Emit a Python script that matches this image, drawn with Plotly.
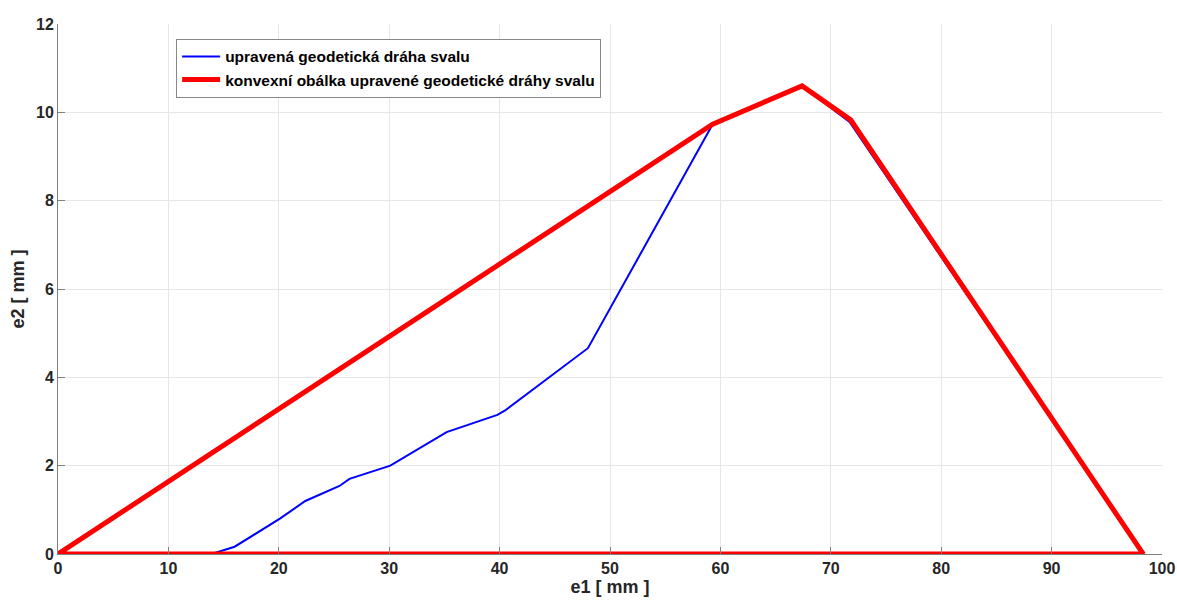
import plotly.graph_objects as go

# blue path
path_e1 = [13.9, 16.0, 20.1, 22.4, 25.5, 26.4, 30.1, 35.2, 39.8, 40.5, 48.0, 59.3, 67.4, 71.7, 98.3]
path_e2 = [0.0, 0.165, 0.8, 1.2, 1.54, 1.7, 2.0, 2.76, 3.15, 3.25, 4.66, 9.73, 10.6, 9.78, 0.0]

# convex hull
hull_e1 = [0.0, 59.3, 67.4, 71.8, 98.3, 0.0]
hull_e2 = [0.0, 9.73, 10.6, 9.83, 0.0, 0.0]

x_ticks = [0, 10, 20, 30, 40, 50, 60, 70, 80, 90, 100]
y_ticks = [0, 2, 4, 6, 8, 10, 12]

FONT = "Liberation Sans, Arial, Helvetica, sans-serif"
TXT = "#262626"

fig = go.Figure()
fig.add_trace(go.Scatter(x=path_e1, y=path_e2, mode="lines",
                         line=dict(color="#0000ff", width=2),
                         name="upravená geodetická dráha svalu"))
fig.add_trace(go.Scatter(x=hull_e1, y=hull_e2, mode="lines",
                         line=dict(color="#ff0000", width=5),
                         name="konvexní obálka upravené geodetické dráhy svalu"))

axis_common = dict(
    showgrid=True, gridcolor="#e6e6e6", gridwidth=1,
    showline=True, linecolor="#808080", linewidth=1,
    ticks="inside", ticklen=7, tickcolor="#808080", tickwidth=1,
    tickfont=dict(family=FONT, size=16, color=TXT, weight="bold"),
    zeroline=False, mirror=False, automargin=False,
)

fig.update_layout(
    width=1177, height=606,
    margin=dict(l=58, r=15, t=24, b=52),
    paper_bgcolor="white", plot_bgcolor="white",
    xaxis=dict(range=[0, 100], tickvals=x_ticks,
               title=dict(text="e1 [ mm ]", standoff=4,
                          font=dict(family=FONT, size=18, color=TXT, weight="bold")),
               **axis_common),
    yaxis=dict(range=[0, 12], tickvals=y_ticks,
               title=dict(text="e2 [ mm ]", standoff=6,
                          font=dict(family=FONT, size=18, color=TXT, weight="bold")),
               **axis_common),
    legend=dict(x=0.107, y=0.972, xanchor="left", yanchor="top",
                bgcolor="white", bordercolor="#888888", borderwidth=1,
                font=dict(family=FONT, size=15.5, color="black", weight="bold"),
                tracegroupgap=0, itemwidth=38),
    showlegend=True,
)

fig.write_html(
    "out.html",
    config={"displayModeBar": False},
    post_script="document.body.style.margin='0';document.body.style.overflow='hidden';",
)
